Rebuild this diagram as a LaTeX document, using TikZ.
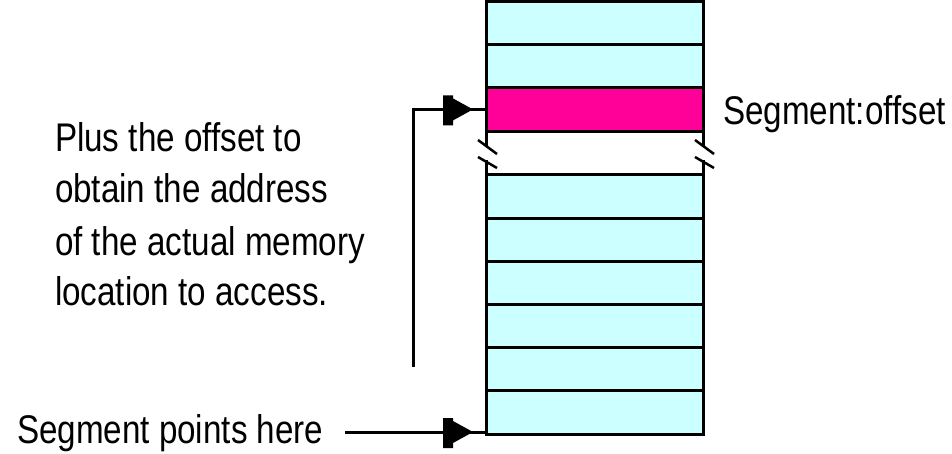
\documentclass[tikz,border=0pt]{standalone}
\usepackage{fontspec}
\setmainfont{Liberation Sans}[FakeStretch=0.83]
\usetikzlibrary{calc}
\definecolor{cellcyan}{HTML}{CCFFFF}
\definecolor{cellmag}{HTML}{FF0099}
\begin{document}
\begin{tikzpicture}[x=1pt,y=-1pt,
  cell/.style={draw=black, line width=3pt, fill=cellcyan, minimum width=217pt,
    minimum height=43.17pt, inner sep=0pt, outer sep=0pt},
  hot/.style={cell, fill=cellmag},
  conn/.style={draw=black, line width=3pt},
  lbl/.style={inner sep=0pt, outer sep=0pt, anchor=base west,
    font=\fontsize{40}{51}\selectfont},
  plug/.pic={\fill[black] (-30,-14) -- (-20,-14) -- (-20,-11) -- (0,0)
      -- (-20,11) -- (-20,16) -- (-30,16) -- cycle;},
  brk/.pic={\draw[line width=3pt] (0,0) -- (0,16) (0,29) -- (0,44);
    \draw[line width=2.5pt] (-8,9) -- (11,23) (-8,26) -- (11,37);}]
\useasboundingbox (0,0) rectangle (952,454);
% memory column
\node[cell] (c1) at (594.5,23.08) {};
\node[cell] (c2) at (594.5,66.25) {};
\node[hot]  (c3) at (594.5,109.42) {};
\node[cell] (c4) at (594.5,196.58) {};
\node[cell] (c5) at (594.5,239.75) {};
\node[cell] (c6) at (594.5,282.92) {};
\node[cell] (c7) at (594.5,326.08) {};
\node[cell] (c8) at (594.5,369.25) {};
\node[cell] (c9) at (594.5,412.42) {};
% break in the column
\pic at (c3.south west) {brk};
\pic at (c3.south east) {brk};
% labels
\node[lbl] (seg) at (723,125) {Segment:offset};
\node[lbl] (t1) at (55,152) {Plus the offset to};
\node[lbl] (t2) at (55,203) {obtain the address};
\node[lbl] (t3) at (55,255) {of the actual memory};
\node[lbl] (t4) at (55,305) {location to access.};
\node[lbl] (pts) at (17,443) {Segment points here};
% connectors
\coordinate (s1) at (413,367);
\coordinate (s2) at (345,432);
\draw[conn] (s1) |- (c3.west);
\pic at ($(c3.west)+(-13,0)$) {plug};
\draw[conn] (s2) -- (s2 -| c9.west);
\pic at ($(s2 -| c9.west)+(-13,0)$) {plug};
\end{tikzpicture}
\end{document}
